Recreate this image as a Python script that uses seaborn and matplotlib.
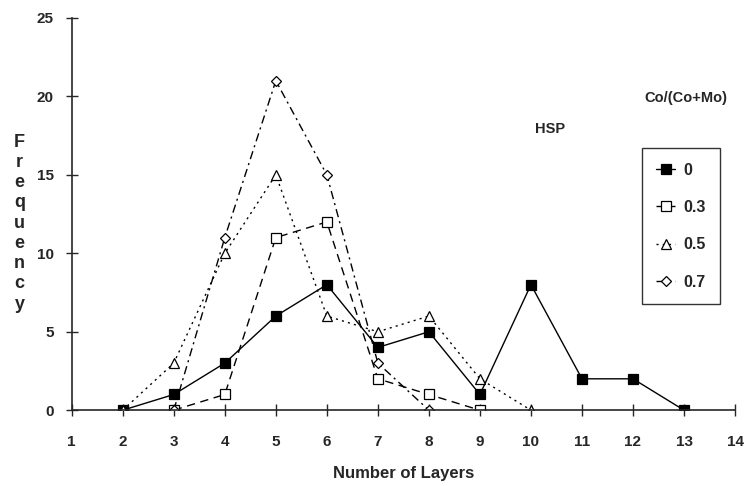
import numpy as np
import pandas as pd
import seaborn as sns
import matplotlib.pyplot as plt

# datos
layers_0 = [2, 3, 4, 5, 6, 7, 8, 9, 10, 11, 12, 13]
freq_0 = [0, 1, 3, 6, 8, 4, 5, 1, 8, 2, 2, 0]

layers_03 = [3, 4, 5, 6, 7, 8, 9]
freq_03 = [0, 1, 11, 12, 2, 1, 0]

layers_05 = [2, 3, 4, 5, 6, 7, 8, 9, 10]
freq_05 = [0, 3, 10, 15, 6, 5, 6, 2, 0]

layers_07 = [3, 4, 5, 6, 7, 8]
freq_07 = [0, 11, 21, 15, 3, 0]

labels = ["0", "0.3", "0.5", "0.7"]
x_ticks = list(range(1, 15))
y_ticks = [0, 5, 10, 15, 20, 25]

sns.set_style("ticks")
plt.rcParams['font.family'] = ['Liberation Sans', 'DejaVu Sans']
plt.rcParams['font.weight'] = 'bold'

fig = plt.figure(figsize=(7.47, 4.86), dpi=100)
ax = fig.add_axes([0.096, 0.156, 0.888, 0.807])

estilos = [
    (layers_0, freq_0, "s", "-", "black"),
    (layers_03, freq_03, "s", (0, (6, 4)), "white"),
    (layers_05, freq_05, "^", (0, (1.5, 3)), "white"),
    (layers_07, freq_07, "D", (0, (6, 3, 1.5, 3)), "white"),
]

for (xs, ys, mk, ls, fc), lab in zip(estilos, labels):
    df = pd.DataFrame({"x": xs, "y": ys})
    sns.lineplot(data=df, x="x", y="y", ax=ax, color="black", linewidth=1.0,
                 linestyle=ls, marker=mk, markersize=7 if mk != "D" else 5.5,
                 markerfacecolor=fc, markeredgecolor="black", markeredgewidth=0.9,
                 label=lab)

ax.set_xlim(1, 14)
ax.set_ylim(0, 25)
ax.set_xticks(x_ticks)
ax.set_yticks(y_ticks)
ax.tick_params(direction="inout", length=8, width=1, labelsize=11)
ax.tick_params(axis="x", pad=14)
ax.tick_params(axis="y", pad=9)
for t in ax.get_xticklabels() + ax.get_yticklabels():
    t.set_fontweight("bold")
sns.despine(ax=ax)
ax.spines["left"].set_linewidth(1.2)
ax.spines["bottom"].set_linewidth(1.2)

ax.set_xlabel("Number of Layers", fontsize=12, fontweight="bold", labelpad=12)
ax.set_ylabel("")
fig.text(0.026, 0.541, "\n".join("Frequency"), fontsize=13, fontweight="bold",
         ha="center", va="center", linespacing=1.25)

fig.text(0.736, 0.727, "HSP", fontsize=10.5, fontweight="bold", ha="center")
fig.text(0.918, 0.79, "Co/(Co+Mo)", fontsize=10.5, fontweight="bold", ha="center")

leg = ax.legend(loc="upper left", bbox_to_anchor=(0.859, 0.695), bbox_transform=fig.transFigure,
                borderaxespad=0, frameon=True, fancybox=False, edgecolor="black",
                handlelength=1.2, handletextpad=0.5, labelspacing=1.4, borderpad=0.9,
                prop={"weight": "bold", "size": 11.5})
leg.get_frame().set_linewidth(1.0)

plt.savefig("out.png", dpi=100)
